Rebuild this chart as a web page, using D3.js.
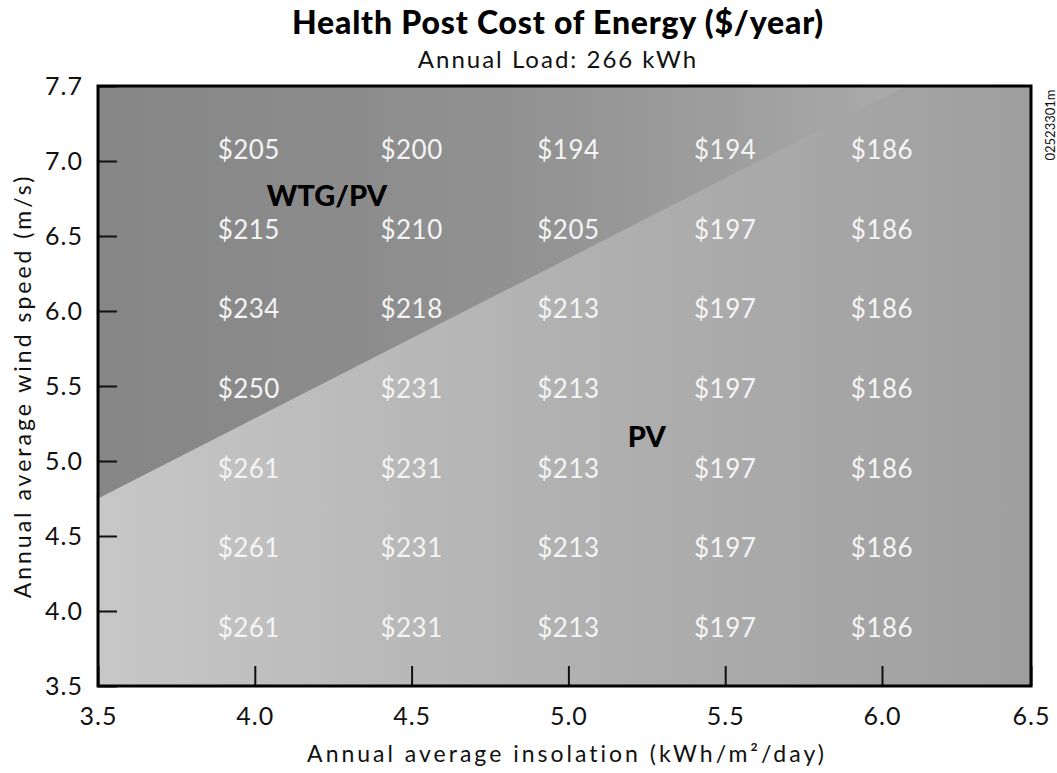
<html>
  <head>
    <title>Health Post Cost of Energy</title>
    <style type="text/css">
      body { margin: 0; background: #fff; }
      svg { font-family: Lato, "Open Sans", sans-serif; }
    </style>
    <script src="https://d3js.org/d3.v7.min.js"></script>
  </head>
  <body>
    <svg class="chart"></svg>
    <script>

// data
var insolation = [4.0, 4.5, 5.0, 5.5, 6.0];          // columns (kWh/m2/day)
var windSpeed = [7.0, 6.5, 6.0, 5.5, 5.0, 4.5, 4.0];  // rows (m/s)
var cost = [
  [205, 200, 194, 194, 186],
  [215, 210, 205, 197, 186],
  [234, 218, 213, 197, 186],
  [250, 231, 213, 197, 186],
  [261, 231, 213, 197, 186],
  [261, 231, 213, 197, 186],
  [261, 231, 213, 197, 186]
];
var xTicks = [3.5, 4.0, 4.5, 5.0, 5.5, 6.0, 6.5];
var yTicks = [3.5, 4.0, 4.5, 5.0, 5.5, 6.0, 6.5, 7.0, 7.7];
// edge between the WTG/PV and PV regions (insolation, wind speed)
var boundary = [[3.5, 4.75], [6.08, 7.7]];
var regionNames = ["WTG/PV", "PV"];
var regionAt = [[4.23, 6.77], [5.25, 5.16]];

var W = 1057, H = 773;
var svg = d3.select(".chart").attr("width", W).attr("height", H);

// the original axes are not quite linear at the far ends
var x = d3.scaleLinear().domain([3.5, 6.0, 6.5]).range([98, 882, 1031]);
var y = d3.scaleLinear().domain([3.5, 7.0, 7.7]).range([686, 161, 86]);
var row = d3.scalePoint().domain(windSpeed).range([150, 628]);

var defs = svg.append("defs");
function grad(id, x1, x2, stops) {
  var g = defs.append("linearGradient").attr("id", id)
    .attr("gradientUnits", "userSpaceOnUse")
    .attr("x1", x1).attr("x2", x2).attr("y1", 0).attr("y2", 0);
  stops.forEach(function(s) {
    g.append("stop").attr("offset", s[0]).attr("stop-color", s[1]);
  });
}
grad("lightG", x(3.5), x(6.5), [[0, "#c7c7c7"], [0.5, "#b1b1b1"], [1, "#9e9e9e"]]);
grad("darkG", x(3.5), x(boundary[1][0]),
  [[0, "#868686"], [0.32, "#8c8c8c"], [0.56, "#939393"], [0.7, "#9a9a9a"], [0.82, "#a0a0a0"], [1, "#ababab"]]);

// PV region (whole plot), then WTG/PV triangle on top
svg.append("rect")
  .attr("x", x(3.5)).attr("y", y(7.7))
  .attr("width", x(6.5) - x(3.5)).attr("height", y(3.5) - y(7.7))
  .attr("fill", "url(#lightG)");

svg.append("path")
  .datum([[3.5, 7.7], boundary[0], boundary[1]])
  .attr("fill", "url(#darkG)")
  .attr("d", d3.line().x(function(d) { return x(d[0]); }).y(function(d) { return y(d[1]); }));

// cost labels
cost.forEach(function(r, i) {
  svg.selectAll(null).data(r).enter().append("text")
    .attr("x", function(d, j) { return x(insolation[j]) - (j == 0 ? 6 : 0); })
    .attr("y", row(windSpeed[i]))
    .attr("dy", "0.35em")
    .attr("text-anchor", "middle")
    .attr("fill", "#f4f4f4")
    .style("font-size", "26px")
    .style("letter-spacing", "0.5px")
    .text(function(d) { return "$" + d; });
});

// region names
svg.selectAll(null).data(regionNames).enter().append("text")
  .attr("x", function(d, i) { return x(regionAt[i][0]); })
  .attr("y", function(d, i) { return y(regionAt[i][1]); })
  .attr("dy", "0.36em")
  .attr("text-anchor", "middle")
  .style("font-size", "29px").style("font-weight", 900)
  .text(function(d) { return d; });

// axes, ticks point inwards
var fmt = function(d) { return d.toFixed(1); };
var gx = svg.append("g").attr("transform", "translate(0," + y(3.5) + ")")
  .call(d3.axisBottom(x).tickValues(xTicks).tickFormat(fmt).tickSizeInner(-20).tickSizeOuter(0).tickPadding(21));
var gy = svg.append("g").attr("transform", "translate(" + x(3.5) + ",0)")
  .call(d3.axisLeft(y).tickValues(yTicks).tickFormat(fmt).tickSizeInner(-19).tickSizeOuter(0).tickPadding(15));
[gx, gy].forEach(function(g) {
  g.select(".domain").remove();
  g.selectAll("line").attr("stroke", "#111").attr("stroke-width", 2);
  g.selectAll("text").attr("fill", "#111").style("font-size", "25px")
    .style("font-family", "Lato, sans-serif").style("letter-spacing", "1px");
});

// frame
svg.append("rect")
  .attr("x", x(3.5)).attr("y", y(7.7))
  .attr("width", x(6.5) - x(3.5)).attr("height", y(3.5) - y(7.7))
  .attr("fill", "none").attr("stroke", "#000").attr("stroke-width", 3);

// titles
svg.append("text").attr("x", 558).attr("y", 34).attr("text-anchor", "middle")
  .style("font-size", "32px").style("font-weight", 900).style("letter-spacing", "0.8px")
  .text("Health Post Cost of Energy ($/year)");
svg.append("text").attr("x", 558).attr("y", 68).attr("text-anchor", "middle")
  .style("font-size", "24px").style("letter-spacing", "2px").attr("fill", "#111")
  .text("Annual Load: 266 kWh");
svg.append("text").attr("x", 567).attr("y", 762).attr("text-anchor", "middle")
  .style("font-size", "23px").style("letter-spacing", "3px").attr("fill", "#111")
  .text("Annual average insolation (kWh/m\u00b2/day)");
svg.append("text").attr("transform", "translate(31,386) rotate(-90)").attr("text-anchor", "middle")
  .style("font-size", "23px").style("letter-spacing", "3px").attr("fill", "#111")
  .text("Annual average wind speed (m/s)");
svg.append("text").attr("transform", "translate(1055,125) rotate(-90)").attr("text-anchor", "middle")
  .style("font-size", "13px").attr("fill", "#111")
  .text("02523301m");

</script>
  </body>
</html>
